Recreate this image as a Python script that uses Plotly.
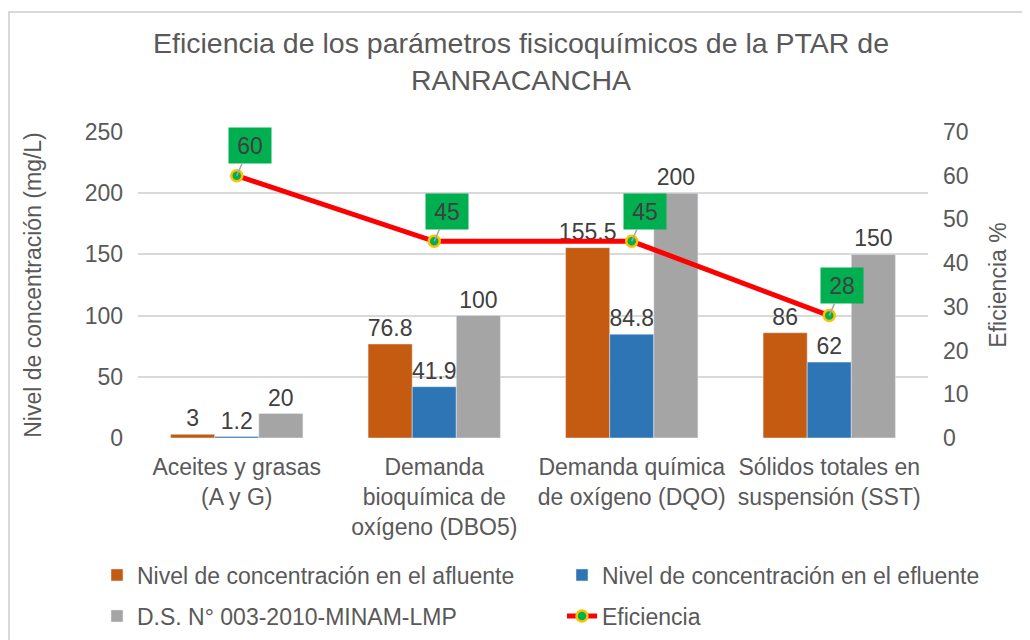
import plotly.graph_objects as go

categories = ["Aceites y grasas<br>(A y G)", "Demanda<br>bioquímica de<br>oxígeno (DBO5)",
              "Demanda química<br>de oxígeno (DQO)", "Sólidos totales en<br>suspensión (SST)"]
afluente = [3, 76.8, 155.5, 86]
efluente = [1.2, 41.9, 84.8, 62]
lmp = [20, 100, 200, 150]
eficiencia = [60, 45, 45, 28]

FONT = "Liberation Sans, Arial, sans-serif"
TXT = "#595959"
LBL = "#404040"
FS = 23

W, H = 1030, 640
PL, PR, PT, PB = 130, 920, 124, 430


def px_x(p):
    return (p - PL) / (PR - PL)


def px_y(p):
    return (PB - p) / (PB - PT)


fig = go.Figure()
fig.add_trace(go.Bar(x=categories, y=afluente, name="Nivel de concentración en el afluente",
                     marker_color="#C55A11", text=[str(v) for v in afluente], textposition="outside",
                     constraintext="none", showlegend=True,
                     textfont=dict(size=FS, color=LBL), cliponaxis=False, legend="legend"))
fig.add_trace(go.Bar(x=categories, y=efluente, name="Nivel de concentración en el efluente",
                     marker_color="#2E75B6", text=[str(v) for v in efluente], textposition="outside",
                     constraintext="none", showlegend=True,
                     textfont=dict(size=FS, color=LBL), cliponaxis=False, legend="legend2"))
fig.add_trace(go.Bar(x=categories, y=lmp, name="D.S. N° 003-2010-MINAM-LMP",
                     marker_color="#A5A5A5", text=[str(v) for v in lmp], textposition="outside",
                     constraintext="none", showlegend=True,
                     textfont=dict(size=FS, color=LBL), cliponaxis=False, legend="legend3"))
fig.add_trace(go.Scatter(x=categories, y=eficiencia, name="Eficiencia", yaxis="y2",
                         mode="lines+markers", line=dict(color="#FF0000", width=5), showlegend=True,
                         marker=dict(size=11, color="#00B050", line=dict(color="#FFC000", width=2.5)),
                         cliponaxis=False, legend="legend4"))

for c, v in zip(categories, eficiencia):
    fig.add_annotation(x=c, y=v, xref="x", yref="y2", text=str(v), showarrow=True,
                       arrowhead=0, arrowwidth=1.5, arrowcolor="#A6A6A6", ax=13, ay=-30,
                       bgcolor="#00B050", borderpad=4, width=34, height=27,
                       font=dict(size=FS, color=LBL, family=FONT))

fig.add_shape(type="rect", xref="paper", yref="paper",
              x0=px_x(1), x1=px_x(1045), y0=px_y(660), y1=px_y(4),
              line=dict(color="#D9D9D9", width=2), layer="below")


def leg(xp, yp):
    return dict(orientation="h", xref="container", yref="container",
                x=xp / W, xanchor="left", y=1 - yp / H, yanchor="middle",
                font=dict(size=FS, color=TXT, family=FONT), bgcolor="rgba(0,0,0,0)", visible=True)


fig.update_layout(
    width=W, height=H, showlegend=True,
    margin=dict(l=PL, r=W - PR, t=PT, b=H - PB, autoexpand=False),
    paper_bgcolor="white", plot_bgcolor="white",
    font=dict(family=FONT, size=FS, color=TXT),
    title=dict(text="Eficiencia de los parámetros fisicoquímicos de la PTAR de<br>RANRACANCHA",
               x=513 / W, xanchor="center", y=1 - 45 / H, yanchor="top",
               font=dict(size=28.5, color=TXT)),
    barmode="group", bargap=0.33, bargroupgap=0,
    xaxis=dict(showline=False, ticks="", tickfont=dict(size=FS, color=TXT), automargin=False,
               ticklabelstandoff=13),
    yaxis=dict(range=[0, 250], dtick=50, gridcolor="#D9D9D9", gridwidth=1.5, zeroline=False,
               automargin=False, ticklabelstandoff=14,
               title=dict(text="Nivel de concentración (mg/L)", font=dict(size=FS, color=TXT), standoff=36),
               tickfont=dict(size=FS, color=TXT)),
    yaxis2=dict(range=[0, 70], dtick=10, overlaying="y", side="right", showgrid=False, zeroline=False,
                automargin=False, ticklabelstandoff=14,
                title=dict(text="Eficiencia %", font=dict(size=FS, color=TXT), standoff=22),
                tickfont=dict(size=FS, color=TXT)),
    legend=leg(89, 567),
    legend2=leg(554, 567),
    legend3=leg(89, 608),
    legend4=leg(554, 608),
)

fig.write_html("out.html")
